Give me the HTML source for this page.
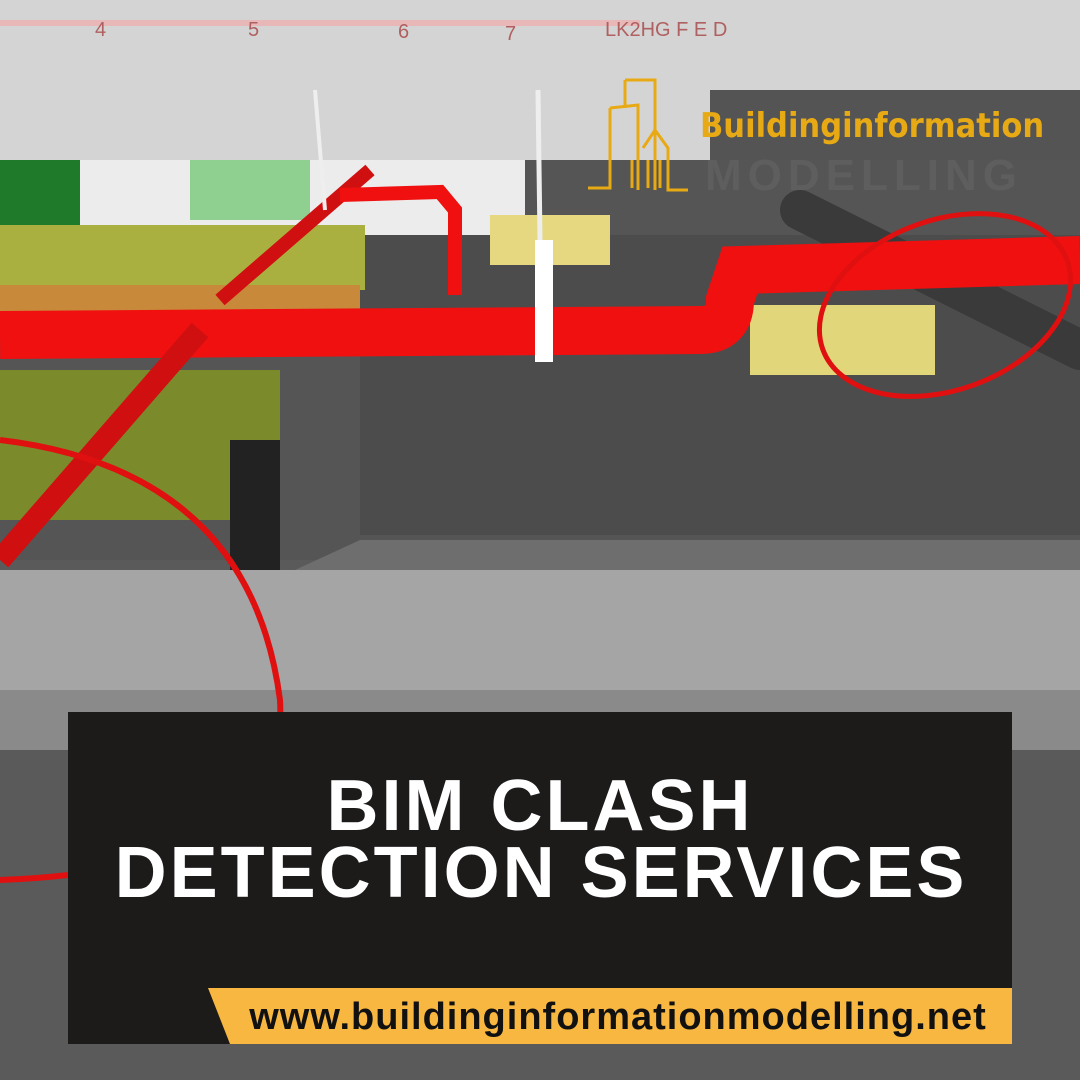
<!DOCTYPE html>
<html><head><style>
html,body{margin:0;padding:0;width:1080px;height:1080px;overflow:hidden;background:#555}
svg{display:block}
</style></head><body>
<svg width="1080" height="1080" viewBox="0 0 1080 1080" xmlns="http://www.w3.org/2000/svg" font-family="Liberation Sans, sans-serif">
<rect width="1080" height="1080" fill="#5a5a5a"/>
<rect x="0" y="0" width="1080" height="160" fill="#d4d4d4"/>
<polygon points="710,90 1080,90 1080,190 590,190 590,165 710,165" fill="#545454"/>
<rect x="0" y="20" width="640" height="6" fill="#e8b8b8"/>
<text x="95" y="36" font-size="20" fill="#b06060">4</text>
<text x="248" y="36" font-size="20" fill="#b06060">5</text>
<text x="398" y="38" font-size="20" fill="#b06060">6</text>
<text x="505" y="40" font-size="20" fill="#b06060">7</text>
<text x="605" y="36" font-size="20" fill="#b06060">LK2HG F  E      D</text>
<polygon points="0,160 1080,160 1080,560 0,560" fill="#555"/>
<rect x="75" y="160" width="450" height="75" fill="#ececec"/>
<rect x="0" y="160" width="80" height="80" fill="#1f7a2a"/>
<rect x="190" y="160" width="120" height="60" fill="#8fcf8f"/>
<rect x="360" y="235" width="720" height="300" fill="#4c4c4c"/>
<polygon points="360,540 1080,540 1080,600 230,600" fill="#6e6e6e"/>
<rect x="0" y="570" width="1080" height="150" fill="#a5a5a5"/>
<rect x="0" y="690" width="1080" height="60" fill="#8a8a8a"/>
<polygon points="0,225 365,225 365,290 0,290" fill="#aab040"/>
<rect x="0" y="285" width="360" height="30" fill="#c88a3a"/>
<polygon points="0,370 280,370 280,520 0,520" fill="#7b8a2a"/>
<rect x="230" y="440" width="50" height="130" fill="#222"/>
<rect x="490" y="215" width="120" height="50" fill="#e6d880"/>
<rect x="750" y="305" width="185" height="70" fill="#e2d67a"/>
<line x1="800" y1="210" x2="1080" y2="350" stroke="#3a3a3a" stroke-width="40" stroke-linecap="round"/>
<path d="M0,335 L700,330 Q730,330 730,300 L740,270 L1080,260" stroke="#f01010" stroke-width="48" fill="none"/>
<line x1="0" y1="560" x2="200" y2="330" stroke="#d01010" stroke-width="22"/>
<line x1="220" y1="300" x2="370" y2="170" stroke="#d01010" stroke-width="14"/>
<path d="M340,195 L440,192 L455,210 L455,295" stroke="#f01010" stroke-width="14" fill="none"/>
<rect x="535" y="240" width="18" height="122" fill="#fff"/>
<line x1="315" y1="90" x2="325" y2="210" stroke="#eee" stroke-width="4"/>
<line x1="538" y1="90" x2="540" y2="240" stroke="#eee" stroke-width="5"/>
<ellipse cx="945" cy="305" rx="130" ry="85" transform="rotate(-20 945 305)" stroke="#e01010" stroke-width="5" fill="none"/>
<path d="M0,440 Q250,470 280,700 Q290,870 0,880" stroke="#e01010" stroke-width="6" fill="none"/>
<g stroke="#e8aa14" stroke-width="3" fill="none">
<path d="M625,80 L655,80 L655,190 M625,80 L625,108"/>
<path d="M610,108 L638,105 L638,190 M610,108 L610,188 L588,188"/>
<path d="M643,148 L655,130 L668,148 L668,190 L688,190"/>
<path d="M632,160 L632,188 M648,160 L648,188 M660,160 L660,188"/>
</g>
<text x="700" y="137" font-size="34" font-weight="bold" fill="#e8aa14" font-family="DejaVu Sans Condensed, Liberation Sans, sans-serif">Buildinginformation</text>
<text x="705" y="190" font-size="44" font-weight="bold" fill="#5e5e5e" letter-spacing="6">MODELLING</text>
<rect x="68" y="712" width="944" height="332" fill="#1d1a1a"/>
<text x="540" y="830" font-size="72" font-weight="bold" fill="#fff" text-anchor="middle" letter-spacing="3">BIM CLASH</text>
<text x="541" y="897" font-size="72" font-weight="bold" fill="#fff" text-anchor="middle" letter-spacing="3">DETECTION SERVICES</text>
<polygon points="208,988 1012,988 1012,1044 230,1044" fill="#f8b740"/>
<text x="618" y="1029" font-size="38" font-weight="bold" fill="#111" text-anchor="middle" letter-spacing="1">www.buildinginformationmodelling.net</text>
</svg>
</body></html>
